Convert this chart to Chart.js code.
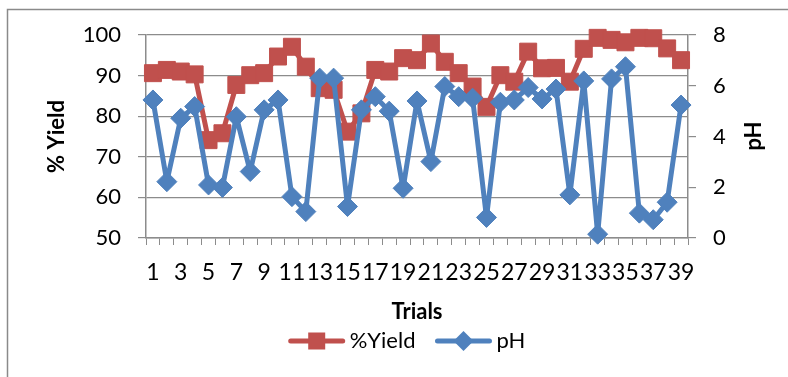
<!DOCTYPE html>
<html>
<head>
<meta charset="utf-8">
<script src="https://cdn.jsdelivr.net/npm/chart.js@4/dist/chart.umd.min.js"></script>
<style>
  html, body { margin: 0; padding: 0; background: #ffffff; }
  #wrap { position: relative; width: 788px; height: 377px; }
  canvas { display: block; }
</style>
</head>
<body>
<div id="wrap"><canvas id="chart" width="788" height="377"></canvas></div>
<script>
// Trial numbers along the category axis
const trials = ['1','2','3','4','5','6','7','8','9','10','11','12','13','14','15','16','17','18','19','20',
                '21','22','23','24','25','26','27','28','29','30','31','32','33','34','35','36','37','38','39'];

// % yield per trial (left axis)
const yieldValues = [90.6, 91.4, 91.0, 90.3, 74.1, 75.8, 87.7, 90.1, 90.6, 94.7,
                     97.1, 92.2, 86.9, 86.5, 76.2, 80.7, 91.4, 91.0, 94.3, 93.8,
                     97.9, 93.4, 90.6, 87.3, 82.3, 90.1, 88.5, 95.9, 91.8, 91.9,
                     88.5, 96.6, 99.3, 98.8, 98.2, 99.3, 99.2, 96.7, 93.8];

// pH per trial (right axis)
const phValues = [5.44, 2.22, 4.72, 5.18, 2.09, 1.99, 4.78, 2.62, 5.05, 5.44,
                  1.63, 1.04, 6.30, 6.30, 1.24, 5.05, 5.57, 5.00, 1.96, 5.40,
                  3.01, 5.97, 5.57, 5.51, 0.81, 5.35, 5.44, 5.93, 5.48, 5.87,
                  1.70, 6.19, 0.15, 6.27, 6.75, 0.98, 0.72, 1.41, 5.24];

// Axis tick values
const yieldTicks = [50, 60, 70, 80, 90, 100];
const phTicks = [0, 2, 4, 6, 8];

const RED = '#C0504D';
const BLUE = '#4F81BD';
const GRID = '#8c8c8c';
const FONT = 'Lato, "Open Sans", sans-serif';

// Outer frame around the chart object
const framePlugin = {
  id: 'frame',
  beforeDraw(chart) {
    const ctx = chart.ctx;
    ctx.save();
    ctx.fillStyle = '#ffffff';
    ctx.fillRect(0, 0, chart.width, chart.height);
    ctx.strokeStyle = '#8a8a8a';
    ctx.lineWidth = 1.5;
    ctx.strokeRect(7.5, 9.5, 900, 500);
    ctx.restore();
  }
};

// Secondary axis title, read bottom to top
const phTitlePlugin = {
  id: 'phTitle',
  afterDraw(chart) {
    const ctx = chart.ctx;
    ctx.save();
    ctx.translate(754, 136);
    ctx.rotate(-Math.PI / 2);
    ctx.font = 'bold 22px ' + FONT;
    ctx.fillStyle = '#000';
    ctx.textAlign = 'center';
    ctx.textBaseline = 'middle';
    ctx.fillText('pH', 0, 0);
    ctx.restore();
  }
};

// Legend with line-through-marker swatches
const lineLegendPlugin = {
  id: 'lineLegend',
  afterDraw(chart) {
    const ctx = chart.ctx;
    const y = 341;
    const lineLen = 56;
    ctx.save();
    ctx.font = '22px ' + FONT;
    const items = chart.data.datasets.map(ds => ({
      text: ds.label, color: ds.borderColor, style: ds.pointStyle,
      w: ctx.measureText(ds.label).width
    }));
    const gapText = 5, gapItem = 20;
    let total = 0;
    items.forEach((it, i) => { total += lineLen + gapText + it.w + (i ? gapItem : 0); });
    let x = 407 - total / 2;
    items.forEach((it, i) => {
      if (i) x += gapItem;
      ctx.strokeStyle = it.color;
      ctx.fillStyle = it.color;
      ctx.lineWidth = 5;
      ctx.lineCap = 'round';
      ctx.beginPath();
      ctx.moveTo(x + 2, y);
      ctx.lineTo(x + lineLen - 2, y);
      ctx.stroke();
      const cx = x + lineLen / 2;
      if (it.style === 'rect') {
        ctx.fillRect(cx - 8.5, y - 8.5, 17, 17);
      } else {
        ctx.beginPath();
        ctx.moveTo(cx - 10, y);
        ctx.lineTo(cx, y - 10);
        ctx.lineTo(cx + 10, y);
        ctx.lineTo(cx, y + 10);
        ctx.closePath();
        ctx.fill();
      }
      x += lineLen + gapText;
      ctx.fillStyle = '#000';
      ctx.textAlign = 'left';
      ctx.textBaseline = 'middle';
      ctx.fillText(it.text, x, y);
      x += it.w;
    });
    ctx.restore();
  }
};

new Chart(document.getElementById('chart'), {
  type: 'line',
  data: {
    labels: trials,
    datasets: [
      {
        label: '%Yield',
        data: yieldValues,
        yAxisID: 'y',
        borderColor: RED,
        backgroundColor: RED,
        borderWidth: 5,
        borderJoinStyle: 'round',
        borderCapStyle: 'round',
        pointStyle: 'rect',
        pointRadius: 12,
        pointBorderWidth: 1,
        pointBackgroundColor: RED,
        pointBorderColor: RED,
        tension: 0,
        clip: false,
        order: 1
      },
      {
        label: 'pH',
        data: phValues,
        yAxisID: 'y1',
        borderColor: BLUE,
        backgroundColor: BLUE,
        borderWidth: 5,
        borderJoinStyle: 'round',
        borderCapStyle: 'round',
        pointStyle: 'rectRot',
        pointRadius: 10,
        pointBorderWidth: 1,
        pointBackgroundColor: BLUE,
        pointBorderColor: BLUE,
        tension: 0,
        clip: false,
        order: 0
      }
    ]
  },
  options: {
    responsive: false,
    devicePixelRatio: 1,
    animation: false,
    layout: { padding: { left: 40, right: 0, top: 35, bottom: 48 } },
    plugins: {
      legend: { display: false },
      tooltip: { enabled: false }
    },
    scales: {
      x: {
        type: 'category',
        offset: true,
        grid: {
          display: true,
          drawOnChartArea: false,
          drawTicks: true,
          tickLength: 7,
          offset: true,
          color: GRID,
          lineWidth: 1
        },
        border: { display: true, color: GRID, width: 1.5 },
        ticks: {
          autoSkip: false,
          maxRotation: 0,
          minRotation: 0,
          padding: 14,
          color: '#000',
          font: { family: FONT, size: 23 },
          callback: (v, i) => (i % 2 === 0 ? trials[i] : '')
        },
        title: {
          display: true,
          text: 'Trials',
          color: '#000',
          font: { family: FONT, size: 22, weight: 'bold' },
          padding: { top: 4, bottom: 4 }
        },
        afterFit: s => { s.height = 91; }
      },
      y: {
        position: 'left',
        min: yieldTicks[0],
        max: yieldTicks[yieldTicks.length - 1],
        afterBuildTicks: s => { s.ticks = yieldTicks.map(v => ({ value: v })); },
        grid: { color: GRID, lineWidth: 1.2, drawTicks: true, tickLength: 8 },
        border: { display: true, color: GRID, width: 1.5 },
        ticks: {
          padding: 17,
          color: '#000',
          font: { family: FONT, size: 22 }
        },
        title: {
          display: true,
          text: '% Yield',
          color: '#000',
          font: { family: FONT, size: 22, weight: 'bold' },
          padding: { top: 4, bottom: 4 }
        },
        afterFit: s => { s.width = 106; }
      },
      y1: {
        position: 'right',
        min: phTicks[0],
        max: phTicks[phTicks.length - 1],
        afterBuildTicks: s => { s.ticks = phTicks.map(v => ({ value: v })); },
        grid: { drawOnChartArea: false, color: GRID, lineWidth: 1.2, drawTicks: true, tickLength: 8 },
        border: { display: true, color: GRID, width: 1.5 },
        ticks: {
          padding: 17,
          color: '#000',
          font: { family: FONT, size: 22 }
        },
        afterFit: s => { s.width = 100; }
      }
    }
  },
  plugins: [framePlugin, phTitlePlugin, lineLegendPlugin]
});
</script>
</body>
</html>
